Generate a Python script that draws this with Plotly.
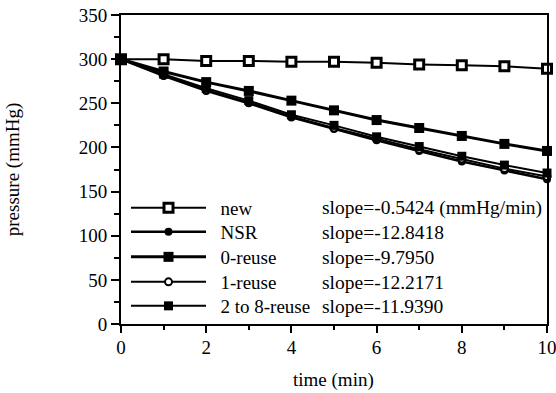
import plotly.graph_objects as go

time_min = [0, 1, 2, 3, 4, 5, 6, 7, 8, 9, 10]
p_new = [300, 300, 298, 298, 297, 297, 296, 294, 293, 292, 289]
p_nsr = [300, 281, 264, 250, 234, 221, 208, 196, 184, 174, 164]
p_reuse0 = [300, 286, 274, 264, 253, 242, 231, 222, 213, 204, 196]
p_reuse1 = [300, 282, 265, 251, 235, 222, 210, 198, 187, 176, 167]
p_reuse2_8 = [300, 283, 267, 253, 237, 225, 212, 201, 190, 180, 171]

series_names = ["new", "NSR", "0-reuse", "1-reuse", "2 to 8-reuse"]
slope_labels = ["slope=-0.5424 (mmHg/min)", "slope=-12.8418", "slope=-9.7950",
                "slope=-12.2171", "slope=-11.9390"]
y_ticks = [0, 50, 100, 150, 200, 250, 300, 350]
x_ticks = [0, 2, 4, 6, 8, 10]
x_title = "time (min)"
y_title = "pressure (mmHg)"

FONT = "Liberation Serif"
FS = 19

W, H = 556, 393
ML, MR, MT, MB = 121, 9, 15, 69
PW = W - ML - MR
PH = H - MT - MB

def py_to_paper(py):
    return (H - MB - py) / PH

def px_to_paper(px):
    return (px - ML) / PW

fig = go.Figure()

styles = [
    dict(symbol="square", size=9, color="white", line=dict(color="black", width=3)),
    dict(symbol="circle", size=8, color="black", line=dict(color="black", width=0)),
    dict(symbol="square", size=10, color="black", line=dict(color="black", width=0)),
    dict(symbol="circle", size=7, color="white", line=dict(color="black", width=2)),
    dict(symbol="square", size=9, color="black", line=dict(color="black", width=0)),
]
widths = [2, 2.5, 3, 2, 2]
data = [p_new, p_nsr, p_reuse0, p_reuse1, p_reuse2_8]
legend_ids = ["legend", "legend2", "legend3", "legend4", "legend5"]
row_y = [208, 232, 257, 282, 306]  # pixel rows of legend entries

for name, ys, st, w, lid in zip(series_names, data, styles, widths, legend_ids):
    fig.add_trace(go.Scatter(
        x=time_min, y=ys, name="\u00a0\u00a0" + name, mode="lines+markers",
        line=dict(color="black", width=w), marker=st, cliponaxis=False,
        legend=lid,
    ))

legend_layout = {}
for lid, py in zip(legend_ids, row_y):
    legend_layout[lid] = dict(
        x=px_to_paper(126), y=py_to_paper(py),
        xanchor="left", yanchor="middle",
        bgcolor="rgba(0,0,0,0)", borderwidth=0,
        itemwidth=75,
        font=dict(family=FONT, size=FS, color="black"),
    )

for lab, py in zip(slope_labels, row_y):
    fig.add_annotation(
        x=px_to_paper(320), y=py_to_paper(py),
        xref="paper", yref="paper", text=lab, showarrow=False,
        xanchor="left", yanchor="middle",
        font=dict(family=FONT, size=19.5, color="black"),
    )

# x-axis title (kept fully inside the figure)
fig.add_annotation(
    x=px_to_paper(333), y=py_to_paper(392),
    xref="paper", yref="paper", text=x_title, showarrow=False,
    xanchor="center", yanchor="bottom", borderpad=0,
    font=dict(family=FONT, size=FS, color="black"),
)

fig.update_layout(
    width=W, height=H,
    margin=dict(l=ML, r=MR, t=MT, b=MB, autoexpand=False),
    paper_bgcolor="white", plot_bgcolor="white",
    font=dict(family=FONT, size=FS, color="black"),
    showlegend=True,
    xaxis=dict(
        range=[0, 10], tickvals=x_ticks, ticktext=[str(v) for v in x_ticks],
        showgrid=False, zeroline=False, automargin=False,
        showline=True, linecolor="black", linewidth=2, mirror=True,
        ticks="outside", ticklen=7, tickwidth=2, tickcolor="black",
        minor=dict(dtick=1, ticklen=4, tickwidth=2, tickcolor="black", ticks="outside"),
        tickfont=dict(family=FONT, size=FS, color="black"),
        ticklabelstandoff=-2, ticklabeloverflow="allow",
    ),
    yaxis=dict(
        range=[0, 350], tickvals=y_ticks, ticktext=[str(v) for v in y_ticks],
        showgrid=False, zeroline=False, automargin=False,
        showline=True, linecolor="black", linewidth=2, mirror=True,
        ticks="outside", ticklen=8, tickwidth=2, tickcolor="black",
        minor=dict(dtick=25, ticklen=5, tickwidth=2, tickcolor="black", ticks="outside"),
        tickfont=dict(family=FONT, size=FS, color="black"),
        ticklabeloverflow="allow",
        title=dict(text=y_title, font=dict(family=FONT, size=19, color="black"), standoff=54),
    ),
    **legend_layout,
)

fig.write_html("out.html", config={"displayModeBar": False},
               post_script="document.body.style.margin='0px';")
